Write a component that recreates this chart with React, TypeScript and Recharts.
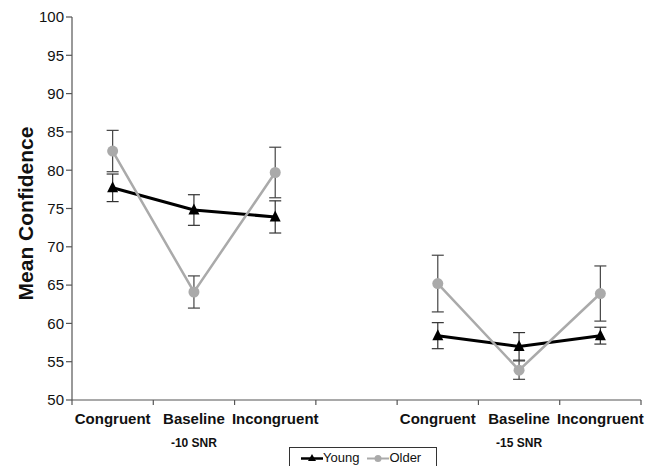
import React from 'react';
import { LineChart, Line, XAxis, YAxis, ErrorBar, Legend } from 'recharts';

const categories = ['Congruent', 'Baseline', 'Incongruent'];
const conditions = ['-10 SNR', '-15 SNR'];
const seriesNames = ['Young', 'Older'];
const yTicks = [50, 55, 60, 65, 70, 75, 80, 85, 90, 95, 100];
const xTicks = [0, 0.5, 1, 1.5, 2, 2.5, 3, 3.5, 4, 4.5, 5, 5.5, 6, 6.5, 7];
const groupPositions = [
  [0.5, 1.5, 2.5],
  [4.5, 5.5, 6.5],
];

const youngSnr10 = [77.7, 74.8, 73.9];
const youngErr10 = [1.8, 2.0, 2.1];
const olderSnr10 = [82.5, 64.1, 79.7];
const olderErr10 = [2.7, 2.1, 3.3];

const youngSnr15 = [58.4, 57.0, 58.4];
const youngErr15 = [1.7, 1.8, 1.1];
const olderSnr15 = [65.2, 53.9, 63.9];
const olderErr15 = [3.7, 1.2, 3.6];

const FONT = 'Liberation Sans, Arial, Helvetica, sans-serif';

const buildGroup = (g: number, young: number[], youngErr: number[], older: number[], olderErr: number[]) =>
  categories.map((c, i) => ({
    x: groupPositions[g][i],
    category: c,
    young: young[i],
    youngErr: youngErr[i],
    older: older[i],
    olderErr: olderErr[i],
  }));

const group10 = buildGroup(0, youngSnr10, youngErr10, olderSnr10, olderErr10);
const group15 = buildGroup(1, youngSnr15, youngErr15, olderSnr15, olderErr15);

const XTick = (props: any) => {
  const { x, y, payload } = props;
  const v = payload.value as number;
  if (Number.isInteger(v)) {
    return <line x1={x} x2={x} y1={y} y2={y + 5} stroke="#555" strokeWidth={1.2} />;
  }
  const idx = Math.floor(v);
  const group = idx < 3 ? 0 : 1;
  const ci = idx < 3 ? idx : idx - 4;
  return (
    <g>
      <text x={x} y={y + 24} textAnchor="middle" fontFamily={FONT} fontWeight="bold" fontSize={15} fill="#111">
        {categories[ci]}
      </text>
      {ci === 1 && (
        <text x={x} y={y + 47} textAnchor="middle" fontFamily={FONT} fontWeight="bold" fontSize={12} fill="#111">
          {conditions[group]}
        </text>
      )}
    </g>
  );
};

const TriangleDot = (props: any) => {
  const { cx, cy } = props;
  if (cx == null || cy == null) return <g key={props.key} />;
  return (
    <path
      key={props.key}
      d={`M${cx},${cy - 6.5} L${cx + 5.5},${cy + 4.5} L${cx - 5.5},${cy + 4.5} Z`}
      fill="#000"
    />
  );
};

const CircleDot = (props: any) => {
  const { cx, cy } = props;
  if (cx == null || cy == null) return <g key={props.key} />;
  return <circle key={props.key} cx={cx} cy={cy} r={5.5} fill="#aaaaaa" />;
};

const LegendContent = () => {
  return (
    <div
      style={{
        border: '1px solid #333',
        background: '#fff',
        height: 26,
        boxSizing: 'border-box',
        display: 'flex',
        alignItems: 'flex-start',
        paddingLeft: 11,
        paddingTop: 2,
        fontFamily: FONT,
        fontSize: 13,
        lineHeight: '16px',
        color: '#111',
      }}
    >
      {seriesNames.map((name, i) => (
        <div key={name} style={{ display: 'flex', alignItems: 'center', marginRight: 8 }}>
          <svg width={22} height={16} style={{ display: 'block' }}>
            {i === 0 ? (
              <g>
                <line x1={0} x2={22} y1={8.5} y2={8.5} stroke="#000" strokeWidth={2.5} />
                <path d="M11,4 L15,11 L7,11 Z" fill="#000" />
              </g>
            ) : (
              <g>
                <line x1={0} x2={22} y1={8.5} y2={8.5} stroke="#aaa" strokeWidth={2} />
                <circle cx={11} cy={8.5} r={3.5} fill="#aaa" />
              </g>
            )}
          </svg>
          <span>{name}</span>
        </div>
      ))}
    </div>
  );
};

const YLabel = (props: any) => {
  const vb = props.viewBox || { y: 17, height: 383 };
  const cy = vb.y + vb.height / 2 + 5;
  return (
    <text
      x={33}
      y={cy}
      transform={`rotate(-90, 33, ${cy})`}
      textAnchor="middle"
      fontFamily={FONT}
      fontWeight="bold"
      fontSize={21}
      fill="#111"
    >
      Mean Confidence
    </text>
  );
};

export default function App() {
  return (
    <div style={{ position: 'absolute', left: 0, top: 0, width: 659, height: 466, overflow: 'hidden', background: '#fff' }}>
      <LineChart width={659} height={466} margin={{ top: 17, right: 18, bottom: 0, left: 0 }}>
        <XAxis
          dataKey="x"
          type="number"
          domain={[0, 7]}
          ticks={xTicks}
          interval={0}
          tick={<XTick />}
          tickLine={false}
          tickSize={0}
          tickMargin={0}
          height={66}
          axisLine={{ stroke: '#555', strokeWidth: 1.2 }}
          allowDataOverflow
        />
        <XAxis
          xAxisId="top"
          orientation="top"
          dataKey="x"
          type="number"
          domain={[0, 7]}
          tick={false}
          tickLine={false}
          height={0}
          axisLine={{ stroke: '#555', strokeWidth: 1.2 }}
        />
        <YAxis
          type="number"
          domain={[50, 100]}
          ticks={yTicks}
          interval={0}
          width={72}
          tickSize={6}
          tickMargin={2}
          tickLine={{ stroke: '#555', strokeWidth: 1.2 }}
          axisLine={{ stroke: '#555', strokeWidth: 1.2 }}
          tick={{ fontFamily: FONT, fontSize: 15, fill: '#111' }}
          label={<YLabel />}
          allowDataOverflow
        />
        <YAxis
          yAxisId="right"
          orientation="right"
          type="number"
          domain={[50, 100]}
          tick={false}
          tickLine={false}
          width={0}
          axisLine={{ stroke: '#555', strokeWidth: 1.2 }}
        />
        <Legend
          layout="vertical"
          align="center"
          verticalAlign="middle"
          content={<LegendContent />}
          wrapperStyle={{ left: 289, top: 447, width: 148, height: 26 }}
        />
        <Line
          data={group10}
          dataKey="young"
          name="Young"
          stroke="#000"
          strokeWidth={3}
          dot={TriangleDot}
          activeDot={false}
          isAnimationActive={false}
        >
          <ErrorBar dataKey="youngErr" direction="y" width={6} stroke="#333" strokeWidth={1.2} />
        </Line>
        <Line
          data={group15}
          dataKey="young"
          name="Young"
          legendType="none"
          stroke="#000"
          strokeWidth={3}
          dot={TriangleDot}
          activeDot={false}
          isAnimationActive={false}
        >
          <ErrorBar dataKey="youngErr" direction="y" width={6} stroke="#333" strokeWidth={1.2} />
        </Line>
        <Line
          data={group10}
          dataKey="older"
          name="Older"
          stroke="#aaaaaa"
          strokeWidth={2.5}
          dot={CircleDot}
          activeDot={false}
          isAnimationActive={false}
        >
          <ErrorBar dataKey="olderErr" direction="y" width={6} stroke="#444" strokeWidth={1.2} />
        </Line>
        <Line
          data={group15}
          dataKey="older"
          name="Older"
          legendType="none"
          stroke="#aaaaaa"
          strokeWidth={2.5}
          dot={CircleDot}
          activeDot={false}
          isAnimationActive={false}
        >
          <ErrorBar dataKey="olderErr" direction="y" width={6} stroke="#444" strokeWidth={1.2} />
        </Line>
      </LineChart>
    </div>
  );
}
